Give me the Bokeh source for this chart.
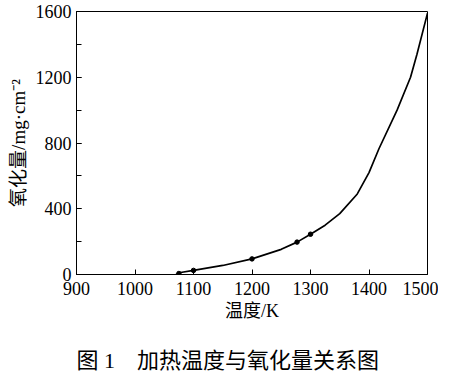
from bokeh.plotting import figure
from bokeh.models import SingleIntervalTicker, Title, Range1d
from bokeh.embed import file_html
from bokeh.resources import INLINE

# data
temp_K = [1070, 1078, 1100, 1150, 1200, 1250, 1277, 1300, 1325, 1350, 1380, 1400, 1417, 1448, 1471, 1482, 1500]
oxid = [0, 12, 25, 55, 95, 153, 197, 245, 300, 370, 490, 620, 765, 1000, 1200, 1340, 1590]
mark_T = [1075, 1100, 1200, 1277, 1300]
mark_O = [6, 25, 95, 197, 245]

x_label = "温度/K"
y_label = "氧化量/mg·cm⁻²"
caption = "图 1　加热温度与氧化量关系图"

SERIF = "'Liberation Serif', 'Noto Sans CJK SC', serif"

p = figure(width=438, height=375, output_backend="svg", toolbar_location=None,
           x_range=Range1d(900, 1500), y_range=Range1d(0, 1600),
           frame_width=351, frame_height=263,
           min_border_left=76, min_border_right=11, min_border_top=11, min_border_bottom=5)
p.xgrid.visible = False
p.ygrid.visible = False
p.outline_line_color = "black"
p.outline_line_width = 1
p.background_fill_color = "white"
p.border_fill_color = "white"

p.line(temp_K, oxid, line_color="black", line_width=1.7)
p.scatter(mark_T, mark_O, size=4.5, color="black")

p.xaxis.ticker = SingleIntervalTicker(interval=100, num_minor_ticks=0)
p.yaxis.ticker = SingleIntervalTicker(interval=400, num_minor_ticks=2)
for ax in (p.xaxis[0], p.yaxis[0]):
    ax.major_tick_in = 5
    ax.major_tick_out = 0
    ax.minor_tick_in = 5
    ax.minor_tick_out = 0
    ax.axis_line_color = "black"
    ax.major_tick_line_color = "black"
    ax.minor_tick_line_color = "black"
    ax.major_label_text_font = SERIF
    ax.major_label_text_font_size = "18px"
    ax.major_label_text_color = "black"
    ax.axis_label_text_font = SERIF
    ax.axis_label_text_font_style = "normal"
    ax.axis_label_text_color = "black"
p.xaxis.minor_tick_line_color = None
p.xaxis.major_label_standoff = 7
p.yaxis.major_label_standoff = 5
p.xaxis.axis_label = x_label
p.yaxis.axis_label = y_label
p.xaxis.axis_label_text_font_size = "18px"
p.yaxis.axis_label_text_font_size = "19px"
p.xaxis.axis_label_standoff = 3
p.yaxis.axis_label_standoff = 4

p.add_layout(Title(text=caption, align="left", offset=0, text_font=SERIF, text_font_size="22px",
                   text_font_style="normal", text_color="black", standoff=45), "below")

open("out.html", "w").write(file_html(p, INLINE))
